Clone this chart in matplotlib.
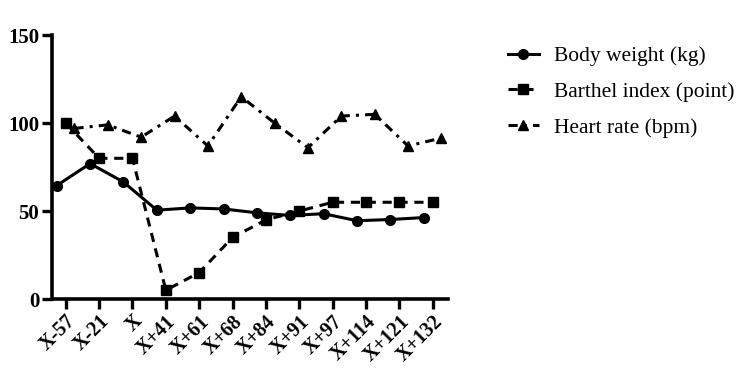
import matplotlib
matplotlib.use("Agg")
import matplotlib.pyplot as plt
import numpy as np

categories = ["X-57", "X-21", "X", "X+41", "X+61", "X+68", "X+84", "X+91",
              "X+97", "X+114", "X+121", "X+132"]
body_weight = [64.5, 77, 66.5, 50.5, 51.8, 51.2, 49, 47.5, 48.5, 44.5, 45.2, 46.3]
barthel = [100, 80, 80, 5, 15, 35, 45, 50, 55, 55, 55, 55]
heart_rate = [97, 99, 92, 104, 87, 115, 100, 86, 104, 105, 87, 91.5]

plt.rcParams['font.family'] = ['Liberation Serif', 'DejaVu Serif']

fig = plt.figure(figsize=(7.5, 3.74), dpi=100)
ax = fig.add_axes([0.069, 0.2005, 0.528, 0.7055])

x = np.arange(len(categories))
lw = 2.2
ax.plot(x - 0.27, body_weight, color='black', lw=lw, ls='-', marker='o', ms=7,
        label='Body weight (kg)')
ax.plot(x, barthel, color='black', lw=lw, ls=(0, (3, 2.2)), marker='s', ms=7,
        label='Barthel index (point)')
ax.plot(x + 0.26, heart_rate, color='black', lw=lw, ls=(0, (3, 2, 1, 2)), marker='^', ms=7.5,
        label='Heart rate (bpm)')

ax.set_xlim(-0.42, 11.45)
ax.set_ylim(0, 150)
ax.set_yticks([0, 50, 100, 150])
ax.set_xticks(x)
ax.set_xticklabels(categories, rotation=45, ha='right', rotation_mode='anchor',
                   fontsize=14.5, fontweight='bold')
for lab in ax.get_yticklabels():
    lab.set_fontsize(15)
    lab.set_fontweight('bold')
ax.tick_params(axis='both', direction='out', length=7, width=2.4, pad=2)
ax.spines['top'].set_visible(False)
ax.spines['right'].set_visible(False)
ax.spines['left'].set_linewidth(2.6)
ax.spines['bottom'].set_linewidth(2.6)

leg = fig.legend(loc='upper left', bbox_to_anchor=(0.652, 0.928), frameon=False,
                 prop={'size': 15.5}, handlelength=1.4, labelspacing=0.72,
                 handletextpad=0.7)

fig.savefig('out.png', dpi=100)
